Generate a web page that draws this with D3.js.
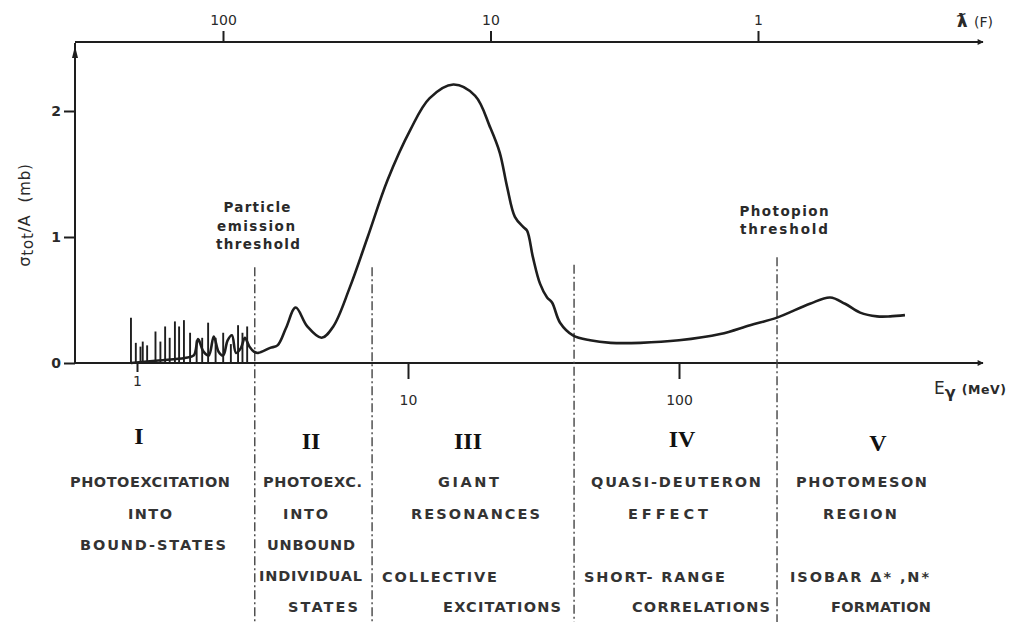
<!DOCTYPE html>
<html>
<head>
<meta charset="utf-8">
<script src="https://cdn.jsdelivr.net/npm/d3@7"></script>
<style>
  html, body { margin: 0; padding: 0; background: #fff; }
  svg { display: block; }
  .lbl { font-family: "DejaVu Sans", sans-serif; fill: #2a2a2a; }
  .region { font-family: "DejaVu Sans", sans-serif; font-weight: bold; font-size: 14.5px; fill: #333; }
  .roman { font-family: "Liberation Serif", "DejaVu Serif", serif; font-weight: bold; font-size: 24px; fill: #111; }
  .thr { font-family: "DejaVu Sans", sans-serif; font-weight: bold; font-size: 13.5px; fill: #2a2a2a; }
</style>
</head>
<body>
<svg id="chart" width="1009" height="622"></svg>
<script>
// Photon energy (MeV) and total photoabsorption cross-section per nucleon (mb)
const curveE = [0.95, 1.2, 1.5, 1.62, 1.68, 1.76, 1.84, 1.92, 2.0, 2.08, 2.16, 2.24, 2.32, 2.42, 2.5, 2.6, 2.7,
  2.8, 3.1, 3.3, 3.55, 3.85, 4.25, 4.8, 5.3, 6.1, 7.1, 8.4, 10.2, 12.0, 14.7, 17.7, 20.1, 21.8, 23.2, 24.8,
  26.6, 27.5, 28.9, 30.7, 32.6, 34.0, 36.4, 40.6, 47, 56, 72, 100, 142, 183, 230, 304, 361, 410, 466, 538, 601, 682];
const curveSigma = [0.0, 0.02, 0.04, 0.06, 0.19, 0.09, 0.06, 0.21, 0.09, 0.06, 0.18, 0.22, 0.08, 0.12, 0.20, 0.13, 0.09,
  0.08, 0.12, 0.14, 0.28, 0.44, 0.29, 0.20, 0.29, 0.60, 1.0, 1.45, 1.85, 2.1, 2.21, 2.12, 1.87, 1.67, 1.40, 1.16,
  1.08, 1.05, 0.84, 0.63, 0.52, 0.48, 0.32, 0.22, 0.18, 0.16, 0.16, 0.18, 0.23, 0.30, 0.36, 0.47, 0.52, 0.47, 0.40, 0.37, 0.37, 0.38];

// Discrete bound-state levels below the particle emission threshold
const levelE = [0.95, 0.99, 1.03, 1.05, 1.09, 1.17, 1.22, 1.27, 1.32, 1.38, 1.43, 1.49, 1.57, 1.66, 1.74, 1.83, 1.95, 2.08, 2.22, 2.36, 2.45, 2.55];
const levelSigma = [0.36, 0.16, 0.13, 0.17, 0.14, 0.25, 0.17, 0.29, 0.20, 0.33, 0.29, 0.34, 0.24, 0.18, 0.20, 0.32, 0.20, 0.24, 0.15, 0.30, 0.24, 0.29];

// Region boundaries (MeV) and the height (mb) at which each dash-dot line begins
const boundaryE = [2.72, 7.37, 41, 230];
const boundaryTop = [0.76, 0.76, 0.78, 0.84];

// Tick values
const energyTicks = [1, 10, 100];
const lambdaTicks = [100, 10, 1];
const sigmaTicks = [0, 1, 2];

// Region annotations: [text, left x, baseline y, width]
const romanNumerals = ["I", "II", "III", "IV", "V"];
const romanX = [139, 311, 468, 682, 878];
const romanY = [444, 449, 449, 447, 451];
const regionLines = [
  [["PHOTOEXCITATION", 70, 487, 160], ["INTO", 128, 519, 44], ["BOUND-STATES", 80, 550, 146]],
  [["PHOTOEXC.", 263, 487, 99], ["INTO", 283, 519, 45], ["UNBOUND", 267, 550, 88], ["INDIVIDUAL", 259, 581, 103], ["STATES", 288, 612, 70]],
  [["GIANT", 438, 487, 61], ["RESONANCES", 411, 519, 129], ["COLLECTIVE", 382, 582, 115], ["EXCITATIONS", 443, 612, 118]],
  [["QUASI-DEUTERON", 591, 487, 170], ["EFFECT", 628, 519, 80], ["SHORT- RANGE", 584, 582, 141], ["CORRELATIONS", 632, 612, 138]],
  [["PHOTOMESON", 796, 487, 131], ["REGION", 823, 519, 74], ["ISOBAR \u0394* ,N*", 790, 582, 139], ["FORMATION", 831, 612, 100]]
];
// Threshold notes: [text, centre x, baseline y, width]
const thresholdNotes = [
  ["Particle", 257, 212, 67], ["emission", 256, 231, 78], ["threshold", 258, 249, 84],
  ["Photopion", 784, 216, 89], ["threshold", 784, 234, 88]
];

const svg = d3.select("#chart");
const ink = "#1e1e1e";

// Frame edges
const frameL = 75, frameR = 983, frameT = 42, frameB = 363;

const x = d3.scaleLog().domain([1, 100]).range([137, 679]);
const xTop = d3.scaleLog().domain([100, 1]).range([223, 758]);
const y = d3.scaleLinear().domain([0, 2]).range([frameB, 111]);

// Arrowheads
const defs = svg.append("defs");
defs.append("marker").attr("id", "arr").attr("viewBox", "0 0 10 10")
  .attr("refX", 9).attr("refY", 5).attr("markerWidth", 10).attr("markerHeight", 6)
  .attr("orient", "auto").attr("markerUnits", "userSpaceOnUse")
  .append("path").attr("d", "M0,0 L10,5 L0,10 Z").attr("fill", ink);

// Axis lines
svg.append("line").attr("x1", frameL).attr("y1", frameB).attr("x2", frameR).attr("y2", frameB)
  .attr("stroke", ink).attr("stroke-width", 2.2).attr("marker-end", "url(#arr)");
svg.append("line").attr("x1", frameL).attr("y1", frameT).attr("x2", frameR).attr("y2", frameT)
  .attr("stroke", ink).attr("stroke-width", 2).attr("marker-end", "url(#arr)");
svg.append("line").attr("x1", frameL).attr("y1", frameB).attr("x2", frameL).attr("y2", frameT + 1)
  .attr("stroke", ink).attr("stroke-width", 2);
svg.append("path").attr("d", `M${frameL},${frameT + 4} l-3,12 l6,0 Z`).attr("fill", ink);

// Bottom axis: photon energy
const gB = svg.append("g").attr("transform", `translate(0,${frameB})`)
  .call(d3.axisBottom(x).tickValues(energyTicks).tickFormat(d3.format("d")).tickSize(12).tickPadding(6));
// Top axis: reduced wavelength
const gT = svg.append("g").attr("transform", `translate(0,${frameT})`)
  .call(d3.axisTop(xTop).tickValues(lambdaTicks).tickFormat(d3.format("d")).tickSize(11).tickPadding(6));
// Left axis: cross-section
const gL = svg.append("g").attr("transform", `translate(${frameL},0)`)
  .call(d3.axisLeft(y).tickValues(sigmaTicks).tickFormat(d3.format("d")).tickSize(11).tickPadding(3));

[gB, gT, gL].forEach(g => {
  g.select(".domain").remove();
  g.selectAll(".tick line").attr("stroke", ink).attr("stroke-width", 2);
  g.selectAll(".tick text").attr("class", "lbl").attr("fill", ink)
    .style("font-family", "DejaVu Sans, sans-serif").style("font-size", "14px");
});
gL.selectAll(".tick text").style("font-size", "14px").style("font-weight", "bold");
// the decade labels past 1 MeV sit a little lower
gB.selectAll(".tick line").attr("y2", d => d === 1 ? 9 : 16);
gB.selectAll(".tick text").attr("y", d => d === 1 ? 13 : 32);

// Axis titles
svg.append("text").attr("class", "lbl").attr("x", 957).attr("y", 27)
  .style("font-size", "14px")
  .call(t => {
    t.append("tspan").text("\u019B").style("font-weight", "bold").style("font-size", "18px");
    t.append("tspan").text(" (F)").attr("dx", 2);
  });

svg.append("text").attr("class", "lbl").attr("x", 934).attr("y", 394)
  .call(t => {
    t.append("tspan").text("E").style("font-size", "17px");
    t.append("tspan").text("\u03B3").attr("dy", 4).style("font-size", "16px").style("font-weight", "bold");
    t.append("tspan").text("(MeV)").attr("dy", -4).attr("dx", 6).style("font-size", "12.5px").style("font-weight", "bold").style("letter-spacing", "0.6px");
  });

svg.append("text").attr("class", "lbl")
  .attr("transform", "translate(30,215) rotate(-90)")
  .attr("text-anchor", "middle").style("font-size", "16px").style("letter-spacing", "0.8px")
  .call(t => {
    t.append("tspan").text("\u03C3");
    t.append("tspan").text("tot").attr("dy", 3).style("font-size", "15px");
    t.append("tspan").text("/A").attr("dy", -3);
    t.append("tspan").text("(mb)").attr("dx", 12).style("font-size", "15px");
  });

// Region boundaries (dash-dot)
svg.append("g").selectAll("line").data(boundaryE).join("line")
  .attr("x1", d => x(d)).attr("x2", d => x(d))
  .attr("y1", (d, i) => y(boundaryTop[i])).attr("y2", 622)
  .attr("stroke", "#444").attr("stroke-width", 1.4)
  .attr("stroke-dasharray", "9,3,2,3");

// Bound-state lines
svg.append("g").selectAll("line").data(levelE).join("line")
  .attr("x1", d => x(d)).attr("x2", d => x(d))
  .attr("y1", y(0)).attr("y2", (d, i) => y(levelSigma[i]))
  .attr("stroke", ink).attr("stroke-width", 1.9);

// Cross-section curve
const pts = curveE.map((e, i) => [e, curveSigma[i]]);
const line = d3.line().x(d => x(d[0])).y(d => y(d[1])).curve(d3.curveCatmullRom.alpha(0.5));
svg.append("path").datum(pts).attr("d", line)
  .attr("fill", "none").attr("stroke", ink).attr("stroke-width", 2.6)
  .attr("stroke-linejoin", "round");

// Threshold annotations
svg.append("g").selectAll("text").data(thresholdNotes).join("text")
  .attr("class", "thr").attr("x", d => d[1]).attr("y", d => d[2])
  .attr("text-anchor", "middle")
  .attr("textLength", d => d[3]).attr("lengthAdjust", "spacing")
  .text(d => d[0]);

// Region numerals and descriptions
svg.append("g").selectAll("text").data(romanNumerals).join("text")
  .attr("class", "roman").attr("x", (d, i) => romanX[i]).attr("y", (d, i) => romanY[i])
  .attr("text-anchor", "middle").text(d => d);

svg.append("g").selectAll("text").data(regionLines.flat()).join("text")
  .attr("class", "region").attr("x", d => d[1]).attr("y", d => d[2])
  .attr("textLength", d => d[3]).attr("lengthAdjust", "spacing")
  .text(d => d[0]);
</script>
</body>
</html>
